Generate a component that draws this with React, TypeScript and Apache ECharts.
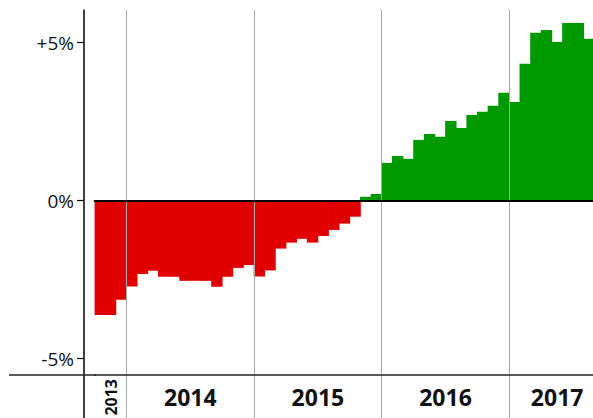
import React, { useEffect, useRef } from "react";
import * as echarts from "echarts";

const months = [
  "2013-10", "2013-11", "2013-12",
  "2014-01", "2014-02", "2014-03", "2014-04", "2014-05", "2014-06", "2014-07", "2014-08", "2014-09", "2014-10", "2014-11", "2014-12",
  "2015-01", "2015-02", "2015-03", "2015-04", "2015-05", "2015-06", "2015-07", "2015-08", "2015-09", "2015-10", "2015-11", "2015-12",
  "2016-01", "2016-02", "2016-03", "2016-04", "2016-05", "2016-06", "2016-07", "2016-08", "2016-09", "2016-10", "2016-11", "2016-12",
  "2017-01", "2017-02", "2017-03", "2017-04", "2017-05", "2017-06", "2017-07", "2017-08", "2017-09",
];

const values: (number | null)[] = [
  -3.62, -3.62, -3.14,
  -2.72, -2.32, -2.22, -2.41, -2.41, -2.54, -2.54, -2.54, -2.73, -2.41, -2.13, -2.04,
  -2.4, -2.21, -1.52, -1.33, -1.21, -1.33, -1.12, -0.93, -0.73, -0.51, 0.12, 0.21,
  1.19, 1.41, 1.32, 1.92, 2.11, 2.02, 2.52, 2.3, 2.71, 2.81, 3.0, 3.41,
  3.12, 4.33, 5.31, 5.4, 5.02, 5.62, 5.62, 5.12, null,
];

const yTicks = [-5, 0, 5];
const years = ["2013", "2014", "2015", "2016", "2017"];

const RED = "#e10000";
const GREEN = "#009a00";

export default function App() {
  const ref = useRef<HTMLDivElement>(null);

  useEffect(() => {
    document.body.style.margin = "0";
    if (!ref.current) return;
    const chart = echarts.init(ref.current, undefined, { renderer: "svg" });

    // year label positions derived from the month categories (band centres)
    const centers: Record<string, string> = {};
    years.forEach((y) => {
      const first = months.findIndex((m) => m.startsWith(y));
      let last = -1;
      months.forEach((m, i) => {
        if (m.startsWith(y)) last = i;
      });
      centers[String((first + last + 1) / 2)] = y;
    });
    const firstYear = years[0];

    chart.setOption({
      animation: false,
      grid: {
        left: 94.6,
        right: -12,
        top: 10,
        bottom: 0,
        containLabel: false,
        outerBoundsMode: "none",
      },
      xAxis: [
        {
          type: "category",
          data: months,
          boundaryGap: true,
          z: 5,
          axisLine: { show: true, onZero: true, lineStyle: { color: "#000", width: 2 } },
          axisTick: { show: false },
          axisLabel: { show: false },
          splitLine: {
            show: true,
            interval: (index: number) => months[index] !== undefined && months[index].endsWith("-01"),
            lineStyle: { color: "#a8a8a8", width: 1 },
          },
        },
        {
          type: "value",
          min: 0,
          max: months.length,
          interval: 0.5,
          position: "bottom",
          offset: -43,
          z: 5,
          axisLine: { show: true, onZero: false, lineStyle: { color: "#222", width: 1.5 } },
          axisTick: { show: false },
          splitLine: { show: false },
          axisLabel: {
            show: true,
            margin: 10,
            fontFamily: "Open Sans",
            fontWeight: "bold",
            fontSize: 23,
            color: "#111",
            showMinLabel: true,
            showMaxLabel: true,
            formatter: (v: number) => (centers[String(v)] && centers[String(v)] !== firstYear ? centers[String(v)] : ""),
          },
        },
        {
          type: "value",
          min: 0,
          max: months.length,
          interval: 0.5,
          position: "bottom",
          offset: -43,
          axisLine: { show: false, onZero: false },
          axisTick: { show: false },
          splitLine: { show: false },
          axisLabel: {
            show: true,
            rotate: 90,
            margin: 4,
            fontFamily: "Open Sans",
            fontWeight: "bold",
            fontSize: 16,
            color: "#111",
            formatter: (v: number) => (centers[String(v)] === firstYear ? firstYear : ""),
          },
        },
      ],
      yAxis: {
        type: "value",
        min: -6.88,
        max: 6.03,
        position: "left",
        offset: 10.6,
        z: 5,
        axisLine: { show: true, onZero: false, lineStyle: { color: "#000", width: 1.5 } },
        axisTick: { show: true, customValues: yTicks, length: 7, lineStyle: { color: "#000", width: 1.2 } },
        splitLine: { show: false },
        axisLabel: {
          show: true,
          customValues: yTicks,
          margin: 10,
          fontFamily: "Open Sans",
          fontSize: 19,
          color: "#111",
          formatter: (v: number) => (v > 0 ? "+" + v + "%" : v + "%"),
        },
      },
      graphic: [
        {
          type: "line",
          shape: { x1: 9, y1: 375, x2: 96, y2: 375 },
          style: { stroke: "#222", lineWidth: 1.5 },
          z: 10,
        },
      ],
      series: [
        {
          type: "bar",
          xAxisIndex: 0,
          yAxisIndex: 0,
          data: values.map((v) =>
            v === null
              ? null
              : { value: v, itemStyle: { color: v < 0 ? RED : GREEN } }
          ),
          barWidth: 11.4,
          z: 2,
        },
      ],
    });

    return () => chart.dispose();
  }, []);

  return <div ref={ref} style={{ width: 593, height: 418 }} />;
}
